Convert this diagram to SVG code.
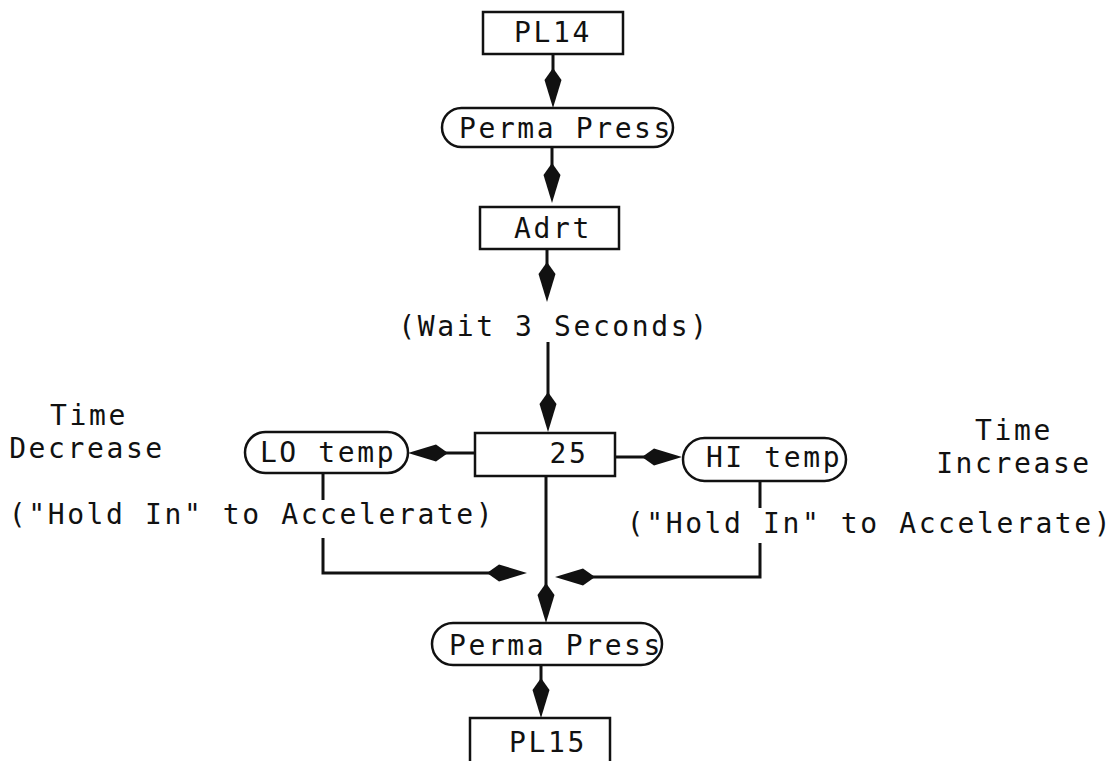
<svg xmlns="http://www.w3.org/2000/svg" width="1113" height="761" viewBox="0 0 1113 761">
<style>
  text { font-family: "DejaVu Sans Mono", "Liberation Mono", monospace; font-size: 28px; letter-spacing: 2.6px; fill: #111; text-anchor: middle; }
  .box { fill: #fff; stroke: #111; stroke-width: 2.5; }
  .conn { fill: none; stroke: #111; stroke-width: 3; }
</style>
<defs>
  <marker id="ah" markerUnits="userSpaceOnUse" viewBox="0 -9 40 18" refX="20" refY="0" markerWidth="40" markerHeight="18" orient="auto">
    <path d="M0,0 L12,-8.5 L40,0 L12,8.5 Z" fill="#111"/>
  </marker>
</defs>
<rect width="1113" height="761" fill="#fff"/>

<g id="connectors">
  <path class="conn" d="M553,54 V88" marker-end="url(#ah)"/>
  <path class="conn" d="M552,147 V183" marker-end="url(#ah)"/>
  <path class="conn" d="M547,249 V282" marker-end="url(#ah)"/>
  <path class="conn" d="M548,342 V412" marker-end="url(#ah)"/>
  <path class="conn" d="M475,453 H428" marker-end="url(#ah)"/>
  <path class="conn" d="M615,457 H662" marker-end="url(#ah)"/>
  <path class="conn" d="M546,476 V603" marker-end="url(#ah)"/>
  <path class="conn" d="M541,665 V698" marker-end="url(#ah)"/>
  <path class="conn" d="M323,473 V500"/>
  <path class="conn" d="M323,538 V573 H507" marker-end="url(#ah)"/>
  <path class="conn" d="M760,481 V508"/>
  <path class="conn" d="M760,543 V577 H575" marker-end="url(#ah)"/>
</g>

<g id="pl14">
  <rect class="box" x="483" y="12" width="140" height="42"/>
  <text x="553" y="42">PL14</text>
</g>
<g id="perma1">
  <rect class="box" x="442" y="108" width="231" height="39" rx="19.5"/>
  <text x="566" y="138">Perma Press</text>
</g>
<g id="adrt">
  <rect class="box" x="480" y="207" width="139" height="42"/>
  <text x="553" y="238">Adrt</text>
</g>
<g id="wait">
  <text x="554" y="336">(Wait 3 Seconds)</text>
</g>
<g id="box25">
  <rect class="box" x="475" y="433" width="140" height="43"/>
  <text x="569" y="463">25</text>
</g>
<g id="lotemp">
  <rect class="box" x="245" y="432" width="163" height="41" rx="20.5"/>
  <text x="328" y="462">LO temp</text>
</g>
<g id="hitemp">
  <rect class="box" x="683" y="438" width="163" height="43" rx="21.5"/>
  <text x="774" y="467">HI temp</text>
</g>
<g id="time-decrease">
  <text x="89" y="425">Time</text>
  <text x="87" y="458">Decrease</text>
</g>
<g id="time-increase">
  <text x="1014" y="440">Time</text>
  <text x="1014" y="473">Increase</text>
</g>
<g id="hold-left">
  <text x="252" y="524">("Hold In" to Accelerate)</text>
</g>
<g id="hold-right">
  <text x="870" y="533">("Hold In" to Accelerate)</text>
</g>
<g id="perma2">
  <rect class="box" x="432" y="623" width="230" height="42" rx="21"/>
  <text x="556" y="655">Perma Press</text>
</g>
<g id="pl15">
  <rect class="box" x="470" y="718" width="140" height="50"/>
  <text x="548" y="752">PL15</text>
</g>
</svg>
